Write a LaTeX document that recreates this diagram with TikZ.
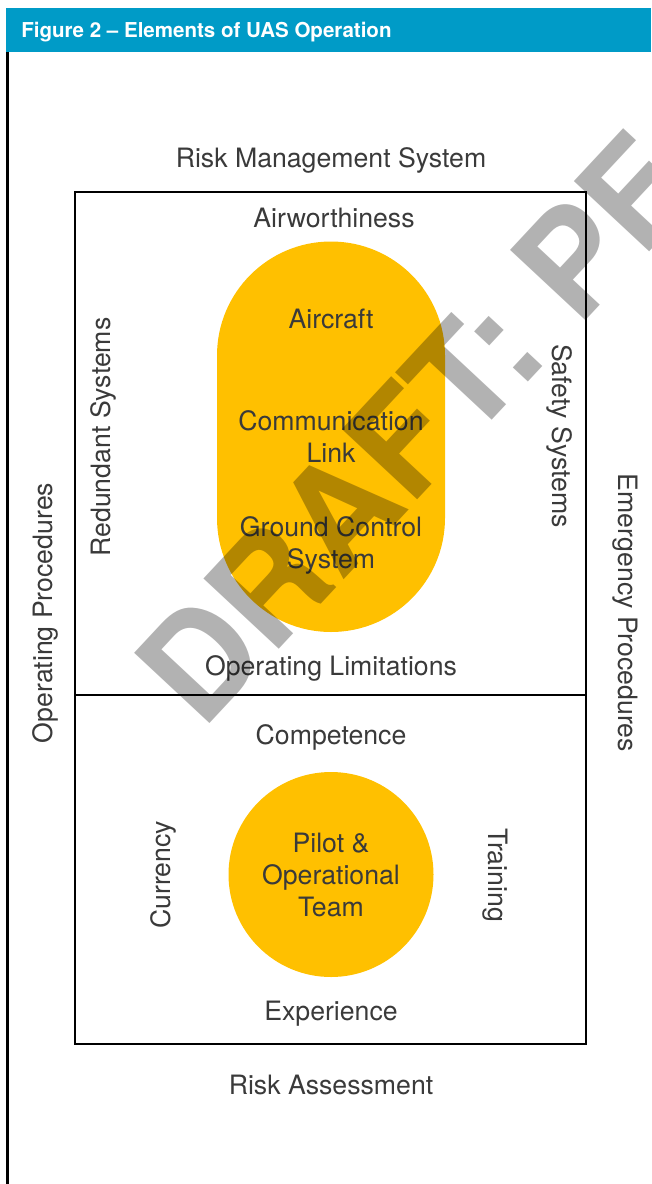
\documentclass[tikz,border=0pt]{standalone}
\usepackage{fontspec}
\setmainfont{TeX Gyre Heros}
\usetikzlibrary{shapes.geometric}

\definecolor{uasblue}{RGB}{0,155,199}
\definecolor{uasyellow}{RGB}{255,192,0}
\definecolor{uastext}{RGB}{58,58,58}

\begin{document}
\begin{tikzpicture}[x=0.75pt,y=0.75pt,yscale=-1,xscale=1,
  elemtext/.style={text=uastext, font=\fontsize{20}{24}\selectfont, align=center, inner sep=0pt},
  sidetext/.style={elemtext, rotate=90},
  sidetextr/.style={elemtext, rotate=-90},
  frame/.style={draw=black, line width=1.5pt},
  teamdisc/.style={elemtext, circle, fill=uasyellow, minimum size=153.75pt},
  draftmark/.style={text=black, text opacity=0.3, inner sep=0pt,
    font=\fontsize{106}{106}\selectfont\bfseries}]
\useasboundingbox (0,0) rectangle (651,1184);
\clip (0,0) rectangle (651,1184);

%Header bar
\fill [uasblue] (6,8) rectangle (651,52);
\node [anchor=base west, inner sep=0pt, text=white, font=\fontsize{15.4}{18}\selectfont\bfseries] (title) at (21,38) {Figure 2 – Elements of UAS Operation};
%Left rule
\draw [line width=1.8pt] (7.5,52) -- (7.5,1184);

%Outer frame and divider
\draw [frame] (75,192) rectangle (586,1044);
\draw [frame] (75,695) -- (586,695);

%Aircraft capsule
\fill [uasyellow, rounded corners=85.5pt] (217,241.5) rectangle (445,632);

% Text Node
\node [elemtext] (riskmgmt) at (331,160) {Risk Management System};
% Text Node
\node [elemtext] (airworth) at (334,218) {Airworthiness};
% Text Node
\node [elemtext] (aircraft) at (331,319) {Aircraft};
% Text Node
\node [elemtext] (commlink) at (331,437) {Communication\\Link};
% Text Node
\node [elemtext] (gcs) at (331,545) {Ground Control\\System};
% Text Node
\node [elemtext] (limits) at (331,668) {Operating Limitations};
% Text Node
\node [sidetext] (redundant) at (103,437) {Redundant Systems};
% Text Node
\node [sidetextr] (safety) at (560,436) {Safety Systems};
% Text Node
\node [sidetext] (opproc) at (45,613) {Operating Procedures};
% Text Node
\node [sidetextr] (emergproc) at (625,613) {Emergency Procedures};

%Pilot disc
\node [teamdisc] (team) at (331,874.5) {Pilot \&\\Operational\\Team};
% Text Node
\node [elemtext] (competence) at (331,737) {Competence};
% Text Node
\node [sidetext] (currency) at (163,875) {Currency};
% Text Node
\node [sidetextr] (training) at (495,875) {Training};
% Text Node
\node [elemtext] (experience) at (331,1014) {Experience};
% Text Node
\node [elemtext] (riskassess) at (331,1085) {Risk Assessment};

%Watermark
\node [draftmark, rotate=47, anchor=base west] (draft) at (202,732) {DRAFT: PF};

\end{tikzpicture}
\end{document}
